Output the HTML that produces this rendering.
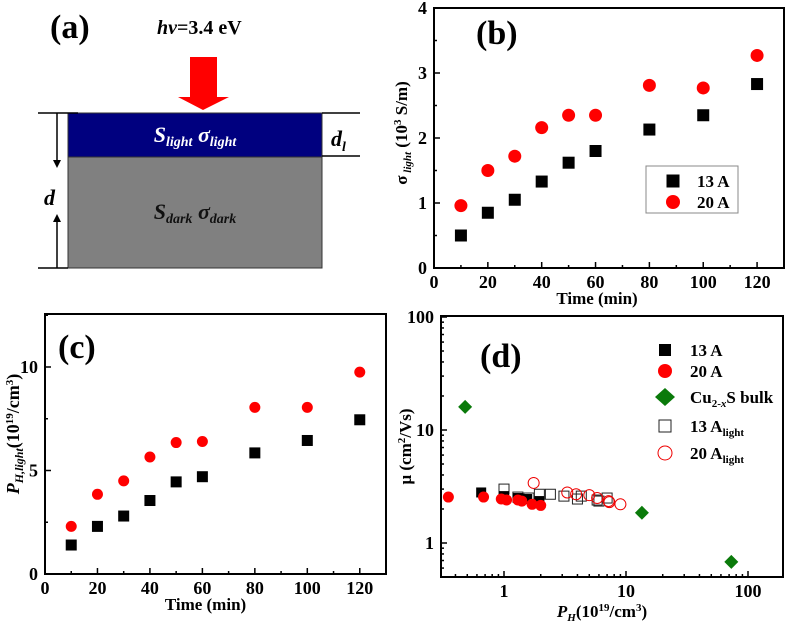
<!DOCTYPE html>
<html><head><meta charset="utf-8"><style>
body{margin:0;background:#fff;}
svg{display:block;font-family:"Liberation Serif",serif;font-weight:bold;}
</style></head><body>
<svg id="fig" width="787" height="628" viewBox="0 0 787 628" xmlns="http://www.w3.org/2000/svg">
<g>
 <text x="50" y="38" font-size="34">(a)</text>
 <text x="157" y="34" font-size="20"><tspan font-style="italic">hv</tspan>=3.4 eV</text>
 <polygon points="190,57 217,57 217,97 229,97 203,110 178,97 190,97" fill="#f00"/>
 <rect x="68" y="113" width="254" height="44" fill="#00007f" stroke="#333"/>
 <rect x="68" y="157" width="254" height="111" fill="#808080" stroke="#333"/>
 <text x="195" y="142" font-size="22" fill="#fff" text-anchor="middle" font-style="italic">S<tspan font-size="14" dy="4">light</tspan><tspan dy="-4"> σ</tspan><tspan font-size="14" dy="4">light</tspan></text>
 <text x="195" y="219" font-size="22" fill="#111" text-anchor="middle" font-style="italic">S<tspan font-size="14" dy="4">dark</tspan><tspan dy="-4"> σ</tspan><tspan font-size="14" dy="4">dark</tspan></text>
 <g stroke="#000" stroke-width="1.5" fill="none">
  <line x1="38" y1="113" x2="78" y2="113"/><line x1="38" y1="268" x2="68" y2="268"/>
  <line x1="322" y1="113" x2="360" y2="113"/><line x1="322" y1="156" x2="360" y2="156"/>
  <line x1="57" y1="113" x2="57" y2="162"/><line x1="57" y1="268" x2="57" y2="220"/>
 </g>
 <polygon points="53,160 61,160 57,168" fill="#000"/><polygon points="53,222 61,222 57,214" fill="#000"/>
 <text x="44" y="205" font-size="22" font-style="italic">d</text>
 <text x="331" y="146" font-size="22" font-style="italic">d<tspan font-size="14" dy="5">l</tspan></text>
</g>
<g id="pb"></g>
<g id="pc"></g>
<g id="pd"></g>
</svg>
<script>
// Panel (b) data
const bTime=[10,20,30,40,50,60,80,100,120];
const b13=[0.5,0.85,1.05,1.33,1.62,1.8,2.13,2.35,2.83];
const b20=[0.96,1.5,1.72,2.16,2.35,2.35,2.81,2.77,3.27];
const bXTicks=[0,20,40,60,80,100,120];
const bYTicks=[0,1,2,3,4];
// Panel (c) data
const cTime=[10,20,30,40,50,60,80,100,120];
const c13=[1.4,2.3,2.8,3.55,4.45,4.7,5.85,6.45,7.45];
const c20=[2.3,3.85,4.5,5.65,6.35,6.4,8.05,8.05,9.75];
const cXTicks=[0,20,40,60,80,100,120];
const cYTicks=[0,5,10];
// Panel (d) data
const d13X=[0.65,1.0,1.3,1.55,1.95];const d13Y=[2.8,2.6,2.5,2.45,2.35];
const d20X=[0.35,0.68,0.95,1.05,1.3,1.4,1.7,2.0];const d20Y=[2.55,2.55,2.45,2.4,2.4,2.35,2.2,2.15];
const dCuX=[0.48,13.5,73];const dCuY=[16,1.85,0.68];
const d13LX=[1.0,1.3,1.6,1.95,2.4,3.1,4.0,4.3,5.8,6.0,7.0];const d13LY=[3.0,2.55,2.5,2.7,2.7,2.6,2.45,2.6,2.4,2.35,2.5];
const d20LX=[1.75,3.3,3.9,5.0,5.8,7.2,7.3,9.0];const d20LY=[3.4,2.8,2.7,2.65,2.5,2.35,2.3,2.2];
const dXTicks=[1,10,100];const dYTicks=[1,10,100];

const NS="http://www.w3.org/2000/svg";
function mk(p,t,a){const e=document.createElementNS(NS,t);for(const k in a)e.setAttribute(k,a[k]);p.appendChild(e);return e;}
function sq(g,x,y,s,fill,stroke){return mk(g,'rect',{x:x-s/2,y:y-s/2,width:s,height:s,fill:fill,stroke:stroke||'none','stroke-width':1});}

// ---- panel b
(function(){
const g=document.getElementById('pb');
const L=434,R=784,T=8,B=268;
const sx=v=>L+(v-0)/130*(R-L), sy=v=>B-v/4*(B-T);
const fr=mk(g,'rect',{x:L,y:T,width:R-L,height:B-T,fill:'none',stroke:'#000','stroke-width':2});

for(let v=0;v<=130;v+=10){const x=sx(v);const l=v%20==0?6:3;mk(g,'line',{x1:x,y1:B,x2:x,y2:B-l,stroke:'#000','stroke-width':1.5});}
for(let v=0;v<=4;v+=0.5){const y=sy(v);const l=v%1==0?6:3;mk(g,'line',{x1:L,y1:y,x2:L+l,y2:y,stroke:'#000','stroke-width':1.5});}
bXTicks.forEach(v=>{const t=mk(g,'text',{x:sx(v),y:B+20,'font-size':18,'text-anchor':'middle'});t.textContent=v;
});
bYTicks.forEach(v=>{const t=mk(g,'text',{x:L-7,y:sy(v)+6,'font-size':18,'text-anchor':'end'});t.textContent=v;
});
const xt=mk(g,'text',{x:(L+R)/2-12,y:B+36,'font-size':17,'text-anchor':'middle'});xt.textContent='Time (min)';

const yt=mk(g,'text',{x:0,y:0,'font-size':17,'text-anchor':'middle',transform:`translate(407,${(T+B)/2-5}) rotate(-90)`});
yt.innerHTML='σ<tspan font-size="11" font-style="italic" dy="4"> light</tspan><tspan dy="-4"> (10</tspan><tspan font-size="11" dy="-6">3</tspan><tspan dy="6"> S/m)</tspan>';

const pl=mk(g,'text',{x:476,y:44,'font-size':34});pl.textContent='(b)';

bTime.forEach((t,i)=>{const m=sq(g,sx(t),sy(b13[i]),12,'#000');});
bTime.forEach((t,i)=>{const m=mk(g,'circle',{cx:sx(t),cy:sy(b20[i]),r:6.5,fill:'#f00'});});
const lg=mk(g,'g',{});
mk(lg,'rect',{x:646,y:166,width:92,height:47,fill:'#fff',stroke:'#888'});
sq(lg,673,181,13,'#000');mk(lg,'circle',{cx:673,cy:202,r:7,fill:'#f00'});
const l1=mk(lg,'text',{x:697,y:187,'font-size':17});l1.textContent='13 A';
const l2=mk(lg,'text',{x:697,y:208,'font-size':17});l2.textContent='20 A';
})();

// ---- panel c
(function(){
const g=document.getElementById('pc');
const L=45,R=386,T=314,B=574;
const sx=v=>L+v/130*(R-L), sy=v=>B-v/12.56*(B-T);
const fr=mk(g,'rect',{x:L,y:T,width:R-L,height:B-T,fill:'none',stroke:'#000','stroke-width':2});

for(let v=0;v<=130;v+=10){const x=sx(v);const l=v%20==0?6:3;mk(g,'line',{x1:x,y1:B,x2:x,y2:B-l,stroke:'#000','stroke-width':1.5});}
for(let v=0;v<=12.5;v+=2.5){const y=sy(v);const l=v%5==0?6:3;mk(g,'line',{x1:L,y1:y,x2:L+l,y2:y,stroke:'#000','stroke-width':1.5});}
cXTicks.forEach(v=>{const t=mk(g,'text',{x:sx(v),y:B+20,'font-size':18,'text-anchor':'middle'});t.textContent=v;
});
cYTicks.forEach(v=>{const t=mk(g,'text',{x:L-7,y:sy(v)+6,'font-size':18,'text-anchor':'end'});t.textContent=v;
});
const xt=mk(g,'text',{x:(L+R)/2-10,y:B+36,'font-size':17,'text-anchor':'middle'});xt.textContent='Time (min)';

const yt=mk(g,'text',{x:0,y:0,'font-size':18,'text-anchor':'middle',transform:`translate(19,${(T+B)/2-10}) rotate(-90)`});
yt.innerHTML='<tspan font-style="italic">P</tspan><tspan font-size="12" font-style="italic" dy="4">H,light</tspan><tspan dy="-4">(10</tspan><tspan font-size="11" dy="-6">19</tspan><tspan dy="6">/cm</tspan><tspan font-size="11" dy="-6">3</tspan><tspan dy="6">)</tspan>';

const pl=mk(g,'text',{x:58,y:358,'font-size':34});pl.textContent='(c)';

cTime.forEach((t,i)=>{const m=sq(g,sx(t),sy(c13[i]),11,'#000');});
cTime.forEach((t,i)=>{const m=mk(g,'circle',{cx:sx(t),cy:sy(c20[i]),r:5.5,fill:'#f00'});});
})();

// ---- panel d
(function(){
const g=document.getElementById('pd');
const L=441,R=783,T=316,B=577;
const x1=504,dx=122,y1=543,dy=113;
const sx=v=>x1+Math.log10(v)*dx, sy=v=>y1-Math.log10(v)*dy;
const fr=mk(g,'rect',{x:L,y:T,width:R-L,height:B-T,fill:'none',stroke:'#000','stroke-width':2});

for(let e=-1;e<=2;e++)for(let k=1;k<10;k++){const v=k*Math.pow(10,e);const x=sx(v);if(x<L+1||x>R-1)continue;const l=k==1?6:3;mk(g,'line',{x1:x,y1:B,x2:x,y2:B-l,stroke:'#000','stroke-width':1.5});}
for(let e=-1;e<=2;e++)for(let k=1;k<10;k++){const v=k*Math.pow(10,e);const y=sy(v);if(y>B-1||y<T+1)continue;const l=k==1?6:3;mk(g,'line',{x1:L,y1:y,x2:L+l,y2:y,stroke:'#000','stroke-width':1.5});}
dXTicks.forEach(v=>{const t=mk(g,'text',{x:sx(v),y:B+20,'font-size':18,'text-anchor':'middle'});t.textContent=v;
});
dYTicks.forEach(v=>{const t=mk(g,'text',{x:L-7,y:sy(v)+6,'font-size':18,'text-anchor':'end'});t.textContent=v;
});
const xt=mk(g,'text',{x:(L+R)/2-10,y:B+40,'font-size':17,'text-anchor':'middle'});
xt.innerHTML='<tspan font-style="italic">P</tspan><tspan font-size="11" font-style="italic" dy="4">H</tspan><tspan dy="-4">(10</tspan><tspan font-size="11" dy="-6">19</tspan><tspan dy="6">/cm</tspan><tspan font-size="11" dy="-6">3</tspan><tspan dy="6">)</tspan>';

const yt=mk(g,'text',{x:0,y:0,'font-size':17,'text-anchor':'middle',transform:`translate(411,${(T+B)/2}) rotate(-90)`});
yt.innerHTML='μ (cm<tspan font-size="11" dy="-6">2</tspan><tspan dy="6">/Vs)</tspan>';

const pl=mk(g,'text',{x:480,y:367,'font-size':34});pl.textContent='(d)';

d13LX.forEach((x,i)=>{const m=sq(g,sx(x),sy(d13LY[i]),10,'none','#222');});
d20LX.forEach((x,i)=>{const m=mk(g,'circle',{cx:sx(x),cy:sy(d20LY[i]),r:5.5,fill:'none',stroke:'#e00','stroke-width':1});});
d13X.forEach((x,i)=>{const m=sq(g,sx(x),sy(d13Y[i]),10,'#000');});
d20X.forEach((x,i)=>{const m=mk(g,'circle',{cx:sx(x),cy:sy(d20Y[i]),r:5.5,fill:'#f00'});});
dCuX.forEach((x,i)=>{const cx=sx(x),cy=sy(dCuY[i]);const m=mk(g,'polygon',{points:`${cx},${cy-7} ${cx+7},${cy} ${cx},${cy+7} ${cx-7},${cy}`,fill:'#0a7a0a'});});
const lg=mk(g,'g',{});
sq(lg,665,350,12,'#000');
mk(lg,'circle',{cx:665,cy:371,r:7,fill:'#f00'});
mk(lg,'polygon',{points:'665,388 675,397 665,406 655,397',fill:'#0a7a0a'});
sq(lg,665,426,12,'none','#222');
mk(lg,'circle',{cx:665,cy:453,r:7,fill:'none',stroke:'#e00'});
const txt=[[356,'13 A'],[377,'20 A'],[403,'Cu<tspan font-size="11" dy="4">2-<tspan font-style="italic">x</tspan></tspan><tspan dy="-4">S bulk</tspan>'],[432,'13 A<tspan font-size="11" dy="4">light</tspan>'],[459,'20 A<tspan font-size="11" dy="4">light</tspan>']];
txt.forEach(a=>{const t=mk(lg,'text',{x:690,y:a[0],'font-size':17});t.innerHTML=a[1];});
})();
</script>
</body></html>
